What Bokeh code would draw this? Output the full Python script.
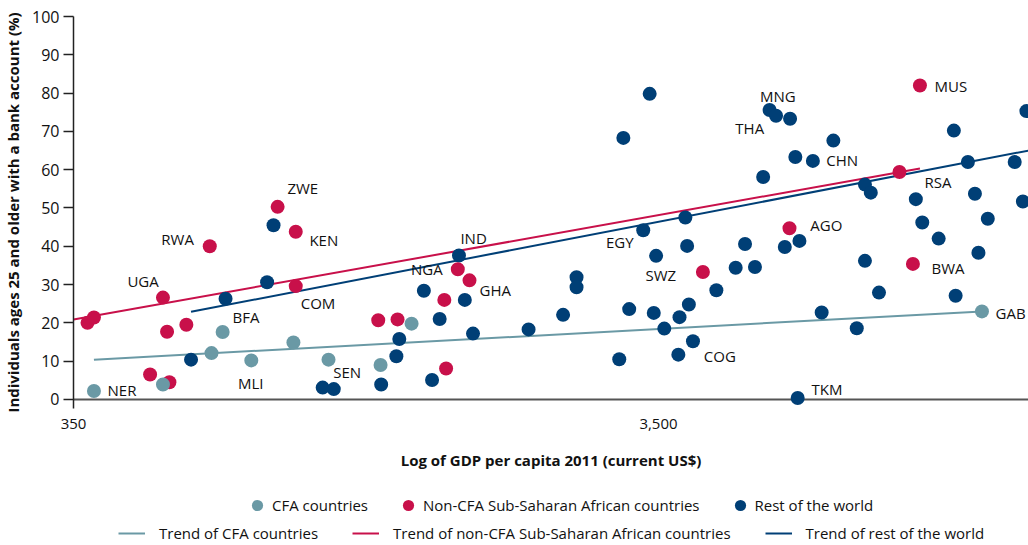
import numpy as np
from bokeh.plotting import figure
from bokeh.layouts import column
from bokeh.models import (ColumnDataSource, Range1d, FixedTicker, CustomJSTickFormatter,
                          Legend, LegendItem, Span)
from bokeh.core.properties import value
from bokeh.embed import file_html
from bokeh.resources import INLINE

# ---- data: log10 of GDP per capita 2011 (current US$) and % adults with bank account
cfa_lgdp = [2.579, 2.697, 2.799, 2.780, 2.848, 2.920, 2.980, 3.069, 3.122, 4.097]
cfa_acc = [2.2, 3.9, 17.6, 12.1, 10.2, 14.9, 10.4, 9.0, 19.8, 23.0]

ssa_lgdp = [2.568, 2.579, 2.697, 2.704, 2.737, 2.675, 2.708, 2.777, 2.893, 2.924, 2.924,
            3.065, 3.098, 3.178, 3.181, 3.201, 3.221, 3.620, 3.768, 3.956, 3.991, 3.979]
ssa_acc = [20.0, 21.4, 26.6, 17.7, 19.5, 6.5, 4.5, 40.0, 50.3, 43.8, 29.6,
           20.7, 20.9, 26.0, 8.1, 34.0, 31.1, 33.3, 44.7, 59.4, 82.0, 35.4]

row_lgdp = [2.745, 2.804, 2.875, 2.886, 2.970, 2.989, 3.070, 3.096, 3.101, 3.143, 3.170,
            3.157, 3.203, 3.213, 3.227, 3.322, 3.381, 3.404, 3.404, 3.484, 3.529, 3.477,
            3.494, 3.518, 3.540, 3.536, 3.554, 3.580, 3.578, 3.590, 3.593, 3.596, 3.603,
            3.643, 3.676, 3.692, 3.709, 3.723, 3.734, 3.745, 3.769, 3.778, 3.808, 3.843,
            3.760, 3.785, 3.782, 3.823, 3.883, 3.897, 3.897, 3.907, 3.921, 3.984, 3.995,
            4.023, 4.049, 4.073, 4.085, 4.091, 4.052, 4.107, 4.153, 4.167, 4.173]
row_acc = [10.4, 26.3, 30.6, 45.5, 3.1, 2.7, 3.9, 11.3, 15.8, 28.4, 21.0,
           5.1, 37.6, 26.0, 17.2, 18.3, 22.1, 31.9, 29.3, 68.3, 79.8, 10.5,
           23.6, 44.2, 37.5, 22.6, 18.5, 21.5, 11.7, 47.5, 40.1, 24.8, 15.2,
           28.5, 34.4, 40.6, 34.6, 58.1, 75.6, 74.1, 73.3, 63.3, 62.3, 67.6,
           39.8, 41.4, 0.4, 22.7, 18.6, 36.2, 56.1, 54.0, 27.9, 52.3, 46.2,
           42.0, 70.2, 62.0, 53.7, 38.3, 27.1, 47.2, 62.0, 51.7, 75.3]

# trend line endpoints (log10 GDP, %)
trend_cfa_lgdp = [2.579, 4.097]
trend_cfa_acc = [10.4, 23.0]
trend_ssa_lgdp = [2.5441, 3.991]
trend_ssa_acc = [20.9, 60.3]
trend_row_lgdp = [2.745, 4.177]
trend_row_acc = [22.9, 65.0]

# country labels
lab_text = ["NER", "UGA", "RWA", "ZWE", "KEN", "COM", "BFA", "MLI", "SEN", "IND", "NGA",
            "GHA", "EGY", "SWZ", "MNG", "THA", "CHN", "RSA", "AGO", "MUS", "BWA", "GAB",
            "COG", "TKM"]
lab_lgdp = [2.627, 2.663, 2.722, 2.936, 2.972, 2.962, 2.839, 2.847, 3.012, 3.228, 3.148,
            3.265, 3.478, 3.548, 3.748, 3.700, 3.858, 4.022, 3.831, 4.044, 4.039, 4.146,
            3.649, 3.832]
lab_acc = [2.4, 30.9, 41.9, 55.2, 41.6, 25.2, 21.5, 4.3, 7.1, 42.1, 34.1,
           28.6, 41.2, 32.5, 79.3, 71.0, 62.6, 56.8, 45.5, 81.8, 34.4, 22.6,
           11.3, 2.7]

x_ticks = [350, 3500]
y_ticks = list(range(0, 101, 10))

point_labels = ["CFA countries", "Non-CFA Sub-Saharan African countries", "Rest of the world"]
trend_labels = ["Trend of CFA countries", "Trend of non-CFA Sub-Saharan African countries",
                "Trend of rest of the world"]

TEAL = "#6a99a5"
RED = "#c8104a"
NAVY = "#003f76"
FONT = "Open Sans"
COLORS = [TEAL, RED, NAVY]

def g(v):
    return list(10 ** np.array(v))

p = figure(frame_width=955, frame_height=392, x_axis_type="log",
           x_range=Range1d(350, 10 ** (2.5441 + 955 / 585)), y_range=Range1d(-2.36, 100),
           output_backend="svg", toolbar_location=None,
           min_border_left=73, min_border_right=0, min_border_top=16, min_border_bottom=66)
p.outline_line_color = None
p.grid.grid_line_color = None
p.background_fill_color = "white"

zero = Span(location=0, dimension="width", line_color="#555555", line_width=2, level="underlay")
p.add_layout(zero)

p.line(g(trend_cfa_lgdp), trend_cfa_acc, line_color=TEAL, line_width=2)
p.line(g(trend_ssa_lgdp), trend_ssa_acc, line_color=RED, line_width=2)
p.line(g(trend_row_lgdp), trend_row_acc, line_color=NAVY, line_width=2)

p.scatter(g(row_lgdp), row_acc, size=14, fill_color=NAVY, line_color=None)
p.scatter(g(ssa_lgdp), ssa_acc, size=14, fill_color=RED, line_color=None)
p.scatter(g(cfa_lgdp), cfa_acc, size=14, fill_color=TEAL, line_color=None)

lab_src = ColumnDataSource(dict(x=g(lab_lgdp), y=lab_acc, t=lab_text))
p.text(x="x", y="y", text="t", source=lab_src, text_font=value(FONT), text_font_size="15px",
       text_align="center", text_baseline="middle", text_color="#111111")

# axes
xa = p.xaxis[0]
xa.ticker = FixedTicker(ticks=x_ticks)
xa.formatter = CustomJSTickFormatter(code="return tick.toLocaleString('en-US');")
xa.axis_line_color = None
xa.major_tick_line_color = None
xa.minor_tick_line_color = None
xa.major_label_standoff = 4
xa.major_label_text_font = FONT
xa.major_label_text_font_size = "15px"
xa.major_label_text_color = "#111111"
xa.axis_label = "Log of GDP per capita 2011 (current US$)"
xa.axis_label_text_font = FONT
xa.axis_label_text_font_size = "15px"
xa.axis_label_text_font_style = "bold"
xa.axis_label_text_color = "#111111"
xa.axis_label_standoff = 18

ya = p.yaxis[0]
ya.ticker = FixedTicker(ticks=y_ticks)
ya.axis_line_color = "#222222"
ya.axis_line_width = 1.5
ya.major_tick_line_color = "#222222"
ya.major_tick_line_width = 1.5
ya.major_tick_out = 10
ya.major_tick_in = 0
ya.minor_tick_line_color = None
ya.major_label_standoff = 4
ya.major_label_text_font = FONT
ya.major_label_text_font_size = "16px"
ya.major_label_text_color = "#111111"
ya.axis_label = "Individuals ages 25 and older with a bank account (%)"
ya.axis_label_text_font = FONT
ya.axis_label_text_font_size = "15px"
ya.axis_label_text_font_style = "bold"
ya.axis_label_text_color = "#111111"
ya.axis_label_standoff = 6

# ---- legend strip (separate figure so nothing is clipped; its frame aligns with p's)
q = figure(width=1028, height=71, x_range=Range1d(0, 1), y_range=Range1d(0, 1),
           x_axis_location=None, y_axis_location=None,
           output_backend="svg", toolbar_location=None,
           min_border_left=0, min_border_right=0, min_border_top=0, min_border_bottom=0)
q.grid.grid_line_color = None
q.outline_line_color = None

pt_items, tr_items = [], []
for lab, col in zip(point_labels, COLORS):
    r = q.scatter([-5], [-5], size=14, fill_color=col, line_color=None)
    pt_items.append(LegendItem(label=lab, renderers=[r]))
for lab, col in zip(trend_labels, COLORS):
    r = q.line([-5, -4], [-5, -4], line_color=col, line_width=2)
    tr_items.append(LegendItem(label=lab, renderers=[r]))

leg1 = Legend(items=pt_items, orientation="horizontal", location=(170, 26),
              glyph_width=28, glyph_height=28, label_standoff=1, spacing=26,
              padding=0, margin=0, border_line_color=None, background_fill_alpha=0,
              label_text_font=FONT, label_text_font_size="15px", label_text_color="#111111")
leg2 = Legend(items=tr_items, orientation="horizontal", location=(45, 2),
              glyph_width=27, glyph_height=20, label_standoff=14, spacing=34,
              padding=0, margin=0, border_line_color=None, background_fill_alpha=0,
              label_text_font=FONT, label_text_font_size="15px", label_text_color="#111111")
q.add_layout(leg1)
q.add_layout(leg2)

open("out.html", "w").write(file_html(column(p, q), INLINE))
